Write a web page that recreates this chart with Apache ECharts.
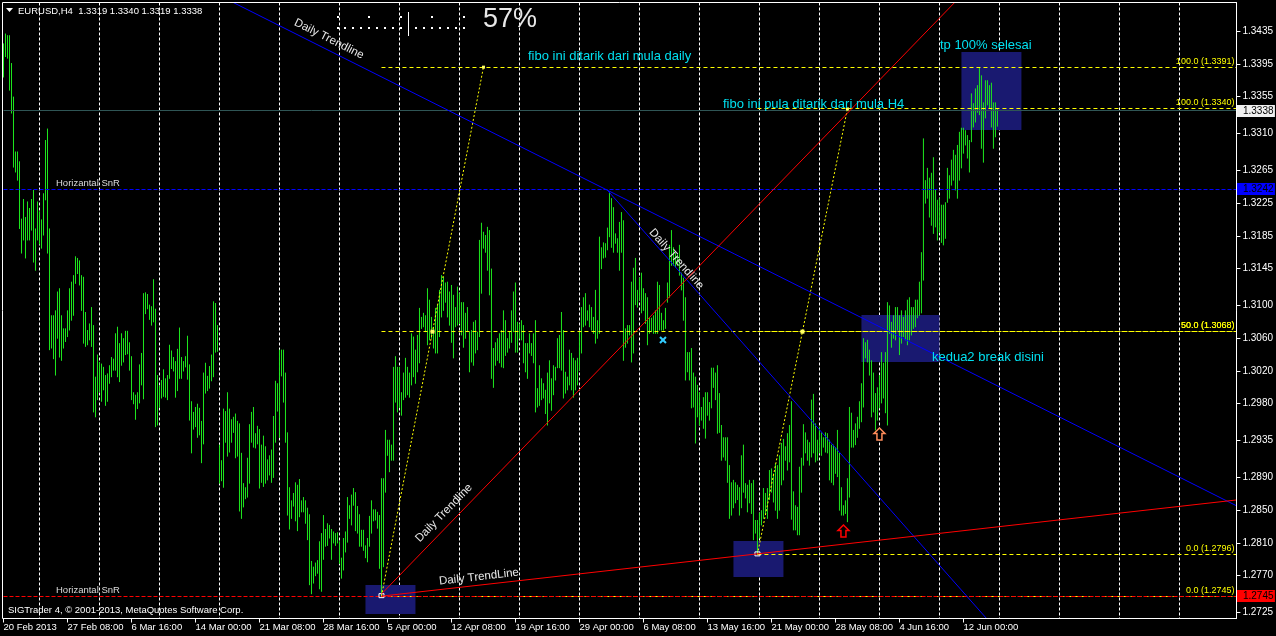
<!DOCTYPE html>
<html>
<head>
<meta charset="utf-8">
<title>EURUSD,H4</title>
<script src="https://cdn.jsdelivr.net/npm/echarts@6.0.0/dist/echarts.min.js"></script>
<style>
html,body{margin:0;padding:0;background:#000;overflow:hidden;}
#chart{width:1276px;height:636px;}
</style>
</head>
<body>
<div id="chart"></div>
<script>
// ---------------- DATA ----------------
// H4 bars: high / low per bar (bar 0 = 20 Feb 2013 00:00)
const barHigh = [
1.3420,1.3432,1.3430,1.3430,1.3396,1.3355,1.3288,1.3288,1.3276,1.3206,
1.3230,1.3208,1.3227,1.3219,1.3230,1.3241,1.3194,1.3227,1.3215,1.3205,
1.3237,1.3302,1.3316,1.3194,1.3088,1.3088,1.3094,1.3117,1.3121,1.3088,
1.3072,1.3072,1.3094,1.3121,1.3129,1.3137,1.3160,1.3158,1.3155,1.3137,
1.3135,1.3092,1.3070,1.3078,1.3098,1.3076,1.3013,1.3040,1.3031,1.3029,
1.3025,1.3015,1.3017,1.3027,1.3037,1.3035,1.3066,1.3074,1.3054,1.3066,
1.3060,1.3069,1.3069,1.3055,1.3038,1.2994,1.2991,1.2994,1.3028,1.3042,
1.3115,1.3116,1.3114,1.3101,1.3099,1.3132,1.3096,1.3015,1.3002,1.3009,
1.3022,1.3011,1.3015,1.3052,1.3045,1.3037,1.3032,1.3047,1.3073,1.3037,
1.3032,1.3038,1.3063,1.3028,1.2983,1.2970,1.2976,1.2980,1.2975,1.2959,
1.3018,1.3030,1.3014,1.3026,1.3040,1.3105,1.3103,1.3076,1.2930,1.2911,
1.2974,1.2971,1.2994,1.2974,1.2961,1.2964,1.2968,1.2959,1.2956,1.2920,
1.2883,1.2878,1.2914,1.2955,1.2970,1.2976,1.2944,1.2953,1.2949,1.2930,
1.2941,1.2928,1.2912,1.2917,1.2924,1.2965,1.3008,1.3005,1.3046,1.3046,
1.3046,1.3018,1.2945,1.2878,1.2862,1.2871,1.2884,1.2881,1.2888,1.2862,
1.2866,1.2862,1.2853,1.2845,1.2788,1.2781,1.2786,1.2789,1.2812,1.2822,
1.2844,1.2827,1.2834,1.2832,1.2827,1.2824,1.2822,1.2823,1.2812,1.2792,
1.2816,1.2824,1.2866,1.2856,1.2869,1.2877,1.2872,1.2855,1.2845,1.2826,
1.2826,1.2807,1.2816,1.2843,1.2862,1.2851,1.2851,1.2848,1.2844,1.2889,
1.2889,1.2948,1.2936,1.2936,1.2930,1.3025,1.3038,1.3025,1.3025,1.2994,
1.3018,1.3036,1.3025,1.3018,1.3066,1.3062,1.3046,1.3064,1.3097,1.3086,
1.3091,1.3088,1.3121,1.3107,1.3086,1.3074,1.3097,1.3101,1.3119,1.3137,
1.3135,1.3128,1.3129,1.3117,1.3125,1.3113,1.3098,1.3123,1.3115,1.3104,
1.3104,1.3091,1.3098,1.3068,1.3070,1.3080,1.3082,1.3068,1.3180,1.3201,
1.3190,1.3186,1.3196,1.3192,1.3145,1.3048,1.3055,1.3060,1.3066,1.3070,
1.3094,1.3082,1.3060,1.3068,1.3094,1.3117,1.3128,1.3080,1.3078,1.3082,
1.3076,1.3054,1.3054,1.3066,1.3054,1.3066,1.3082,1.2999,1.3027,1.3011,
1.3005,1.2997,1.3018,1.3033,1.3011,1.3027,1.3025,1.3060,1.3064,1.3092,
1.3070,1.3019,1.3013,1.3046,1.3042,1.3036,1.3033,1.3036,1.3068,1.3098,
1.3110,1.3115,1.3094,1.3101,1.3098,1.3086,1.3119,1.3082,1.3184,1.3171,
1.3177,1.3176,1.3195,1.3239,1.3231,1.3220,1.3188,1.3182,1.3202,1.3214,
1.3204,1.3072,1.3076,1.3076,1.3129,1.3146,1.3158,1.3119,1.3134,1.3140,
1.3121,1.3115,1.3110,1.3085,1.3085,1.3088,1.3094,1.3129,1.3125,1.3091,
1.3082,1.3097,1.3128,1.3174,1.3192,1.3171,1.3164,1.3162,1.3174,1.3140,
1.3134,1.3110,1.3043,1.3043,1.3048,1.3018,1.3013,1.3003,1.2994,1.2976,
1.2988,1.2994,1.2994,1.2982,1.3024,1.3024,1.3018,1.3027,1.2993,1.2954,
1.2939,1.2939,1.2939,1.2905,1.2884,1.2887,1.2884,1.2881,1.2878,1.2917,
1.2930,1.2883,1.2881,1.2887,1.2883,1.2887,1.2838,1.2838,1.2847,1.2850,
1.2877,1.2871,1.2877,1.2899,1.2901,1.2895,1.2907,1.2905,1.2917,1.2932,
1.2937,1.2928,1.2944,1.2954,1.2983,1.2873,1.2856,1.2854,1.2903,1.2914,
1.2955,1.2945,1.2936,1.2933,1.2985,1.2992,1.2956,1.2936,1.2952,1.2945,
1.2939,1.2945,1.2944,1.2936,1.2930,1.2930,1.2927,1.2948,1.2920,1.2878,
1.2856,1.2862,1.2889,1.2976,1.2969,1.2948,1.2956,1.2964,1.2983,1.3005,
1.3060,1.3055,1.3058,1.3046,1.3033,1.3018,1.2993,1.3000,1.3015,1.3043,
1.3030,1.3043,1.3104,1.3100,1.3080,1.3088,1.3098,1.3098,1.3088,1.3094,
1.3086,1.3094,1.3107,1.3110,1.3098,1.3098,1.3107,1.3107,1.3129,1.3165,
1.3304,1.3253,1.3268,1.3256,1.3262,1.3281,1.3241,1.3229,1.3231,1.3223,
1.3223,1.3226,1.3268,1.3259,1.3278,1.3290,1.3284,1.3296,1.3312,1.3317,
1.3317,1.3314,1.3308,1.3302,1.3359,1.3347,1.3365,1.3369,1.3390,1.3381,
1.3348,1.3375,1.3375,1.3369,1.3372,1.3348,1.3348,1.3340
];
const barLow = [
1.3379,1.3404,1.3402,1.3363,1.3335,1.3269,1.3263,1.3253,1.3194,1.3164,
1.3180,1.3158,1.3180,1.3180,1.3192,1.3153,1.3143,1.3180,1.3175,1.3170,
1.3186,1.3229,1.3164,1.3046,1.3048,1.3035,1.3015,1.3060,1.3037,1.3033,
1.3048,1.3056,1.3062,1.3070,1.3082,1.3088,1.3127,1.3139,1.3125,1.3094,
1.3054,1.3050,1.3052,1.3058,1.3050,1.2970,1.2964,1.2985,1.2995,1.2983,
1.2997,1.2978,1.2983,1.3005,1.3013,1.3021,1.3021,1.3013,1.3007,1.3027,
1.3031,1.3040,1.3041,1.3021,1.2985,1.2980,1.2961,1.2974,1.2981,1.3003,
1.2986,1.3090,1.3096,1.3083,1.3076,1.3080,1.2952,1.2954,1.2976,1.2987,
1.2989,1.2988,1.2985,1.3011,1.3023,1.3020,1.2988,1.2996,1.3011,1.3011,
1.3020,1.3025,1.3010,1.2960,1.2920,1.2949,1.2952,1.2939,1.2942,1.2908,
1.2931,1.2993,1.2996,1.2999,1.3008,1.3013,1.3043,1.3044,1.2883,1.2886,
1.2878,1.2933,1.2916,1.2921,1.2933,1.2945,1.2914,1.2916,1.2849,1.2840,
1.2854,1.2864,1.2866,1.2883,1.2933,1.2927,1.2926,1.2931,1.2877,1.2884,
1.2879,1.2883,1.2887,1.2893,1.2884,1.2890,1.2933,1.2971,1.2939,1.3014,
1.2982,1.2933,1.2844,1.2827,1.2840,1.2855,1.2837,1.2825,1.2842,1.2848,
1.2848,1.2834,1.2814,1.2759,1.2748,1.2761,1.2770,1.2773,1.2754,1.2751,
1.2790,1.2806,1.2807,1.2816,1.2790,1.2810,1.2807,1.2810,1.2785,1.2767,
1.2777,1.2799,1.2811,1.2840,1.2832,1.2856,1.2825,1.2822,1.2806,1.2806,
1.2801,1.2792,1.2787,1.2806,1.2822,1.2837,1.2838,1.2828,1.2779,1.2745,
1.2781,1.2872,1.2917,1.2897,1.2911,1.2911,1.2982,1.2970,1.2976,1.2966,
1.2985,1.2988,1.2991,1.2988,1.3003,1.3013,1.3005,1.3019,1.3030,1.3072,
1.3074,1.3068,1.3052,1.3058,1.3060,1.3048,1.3042,1.3042,1.3062,1.3086,
1.3094,1.3104,1.3086,1.3076,1.3055,1.3036,1.3074,1.3076,1.3078,1.3064,
1.3049,1.3060,1.3068,1.3019,1.3031,1.3027,1.3042,1.3046,1.3062,1.3115,
1.3170,1.3165,1.3143,1.3113,1.3011,1.3000,1.3027,1.3033,1.3030,1.3025,
1.3024,1.3039,1.3043,1.3048,1.3055,1.3068,1.3043,1.3043,1.3060,1.3058,
1.3030,1.3019,1.3011,1.3042,1.3039,1.3030,1.2970,1.2976,1.2978,1.2985,
1.2987,1.2968,1.2954,1.2981,1.2972,1.2991,1.3009,1.3024,1.3024,1.3021,
1.2987,1.2993,1.2997,1.3003,1.2997,1.2988,1.2997,1.3003,1.3021,1.3042,
1.3074,1.3076,1.3082,1.3074,1.3070,1.3066,1.3054,1.3060,1.3066,1.3145,
1.3158,1.3159,1.3168,1.3184,1.3171,1.3165,1.3176,1.3165,1.3143,1.3165,
1.3033,1.3049,1.3054,1.3064,1.3031,1.3042,1.3101,1.3098,1.3107,1.3091,
1.3094,1.3078,1.3052,1.3066,1.3068,1.3066,1.3066,1.3066,1.3070,1.3070,
1.3070,1.3072,1.3104,1.3110,1.3149,1.3149,1.3147,1.3149,1.3137,1.3119,
1.3082,1.3009,1.3019,1.3009,1.2975,1.2976,1.2932,1.2964,1.2954,1.2960,
1.2950,1.2938,1.2966,1.2960,1.2975,1.3000,1.2985,1.2944,1.2945,1.2911,
1.2915,1.2911,1.2884,1.2840,1.2844,1.2853,1.2859,1.2863,1.2844,1.2853,
1.2872,1.2865,1.2848,1.2859,1.2846,1.2814,1.2822,1.2796,1.2816,1.2832,
1.2840,1.2846,1.2840,1.2863,1.2872,1.2860,1.2850,1.2840,1.2850,1.2881,
1.2887,1.2911,1.2899,1.2909,1.2839,1.2826,1.2826,1.2820,1.2820,1.2872,
1.2905,1.2920,1.2911,1.2905,1.2915,1.2920,1.2909,1.2911,1.2920,1.2917,
1.2927,1.2921,1.2920,1.2887,1.2884,1.2881,1.2895,1.2891,1.2850,1.2844,
1.2844,1.2846,1.2836,1.2866,1.2927,1.2927,1.2930,1.2939,1.2950,1.2958,
1.2976,1.3036,1.3031,1.3015,1.2964,1.2970,1.2948,1.2960,1.2975,1.2981,
1.2987,1.2969,1.2954,1.3066,1.3049,1.3060,1.3058,1.3070,1.3040,1.3054,
1.3062,1.3058,1.3052,1.3058,1.3064,1.3072,1.3074,1.3085,1.3088,1.3091,
1.3131,1.3225,1.3231,1.3208,1.3198,1.3188,1.3196,1.3180,1.3190,1.3177,
1.3174,1.3182,1.3226,1.3231,1.3247,1.3253,1.3241,1.3231,1.3253,1.3268,
1.3286,1.3296,1.3280,1.3263,1.3300,1.3318,1.3324,1.3336,1.3333,1.3292,
1.3275,1.3329,1.3345,1.3341,1.3318,1.3292,1.3306,1.3319
];
const lastOpen = 1.3319;
const bidPrice = 1.3338;

// time axis labels (one every 32 H4 bars)
const xTickLabels = ['20 Feb 2013','27 Feb 08:00','6 Mar 16:00','14 Mar 00:00','21 Mar 08:00','28 Mar 16:00','5 Apr 00:00','12 Apr 08:00','19 Apr 16:00','29 Apr 00:00','6 May 08:00','13 May 16:00','21 May 00:00','28 May 08:00','4 Jun 16:00','12 Jun 00:00'];
const barsPerLabel = 32;
// price axis labels
const yTickValues = [1.3435,1.3395,1.3355,1.3310,1.3265,1.3225,1.3185,1.3145,1.3100,1.3060,1.3020,1.2980,1.2935,1.2890,1.2850,1.2810,1.2770,1.2725];

// horizontal support/resistance lines
const snrPrices = [1.3242, 1.2745];
const snrColors = ['#0000ff', '#ff0000'];
const snrLabelBar = 26.25;

// fibonacci retracements (anchor bars, low / high)
const fiboStartBar = [189, 377];
const fiboEndBar = [240, 422];
const fiboLow = [1.2745, 1.2796];
const fiboHigh = [1.3391, 1.3340];

// trendlines: two anchors each (bar, price)
const trendA = [[302, 1.32407], [302, 1.32407], [189, 1.27476], [189, 1.2745]];
const trendB = [[616, 1.28560], [490, 1.27220], [474, 1.34659], [616, 1.28623]];
const trendColors = ['#0000ff', '#0000ff', '#ff0000', '#ff0000'];
const trendBothWays = [true, false, false, false];
const trendLabels = ['Daily Trendline', 'Daily Trendline', 'Daily Trendline', 'Daily TrendLine'];
const trendLabelAt = [[162.75, 1.34254], [336.5, 1.31567], [220.25, 1.28465], [237.75, 1.27684]];

// filled zones: bar1, price1, bar2, price2
const zoneBoxes = [
  [181, 1.27586, 206, 1.27232],
  [365, 1.28123, 390, 1.27684],
  [429, 1.30883, 468, 1.30310],
  [479, 1.34095, 509, 1.33142]
];

// text notes
const noteTexts = ['fibo ini ditarik dari mula daily', 'fibo ini pula ditarik dari mula H4', 'tp 100% selesai', 'kedua2 break disini'];
const noteAt = [[262.25, 1.34046], [359.75, 1.33460], [468.25, 1.34180], [464.25, 1.30370]];

// arrow marks
const arrowAt = [[420, 1.28245], [438, 1.29430]];
const arrowColors = ['#ff0000', '#ff8c5a'];
const crossAt = [329.75, 1.30578];

const progressPercent = 57;

// ---------------- LAYOUT ----------------
const FONT = '"Liberation Sans", Arial, sans-serif';
const BAR_COLOR = '#1ee81e';
const X_MAX = 616.5;
const Y_MAX = 1.346995;
const Y_MIN = 1.271770;
const xTickBars = xTickLabels.map((_, k) => k * barsPerLabel);
const weekStarts = [];
for (let b = 18; b <= X_MAX; b += 30) weekStarts.push(b);

function crisp(v) { return Math.round(v - 0.5) + 0.5; }

function clipSeg(x1, y1, x2, y2, r) {
  let t0 = 0, t1 = 1;
  const dx = x2 - x1, dy = y2 - y1;
  const p = [-dx, dx, -dy, dy];
  const q = [x1 - r.x, r.x + r.width - x1, y1 - r.y, r.y + r.height - y1];
  for (let k = 0; k < 4; k++) {
    if (p[k] === 0) { if (q[k] < 0) return null; }
    else {
      const t = q[k] / p[k];
      if (p[k] < 0) { if (t > t1) return null; if (t > t0) t0 = t; }
      else { if (t < t0) return null; if (t < t1) t1 = t; }
    }
  }
  return [x1 + t0 * dx, y1 + t0 * dy, x1 + t1 * dx, y1 + t1 * dy];
}

function txt(x, y, text, color, size, align, vAlign, rotation) {
  return {
    type: 'text', x: x, y: y, rotation: rotation || 0,
    style: {
      text: text, fill: color, font: size + 'px ' + FONT,
      textAlign: align, textVerticalAlign: vAlign, align: align, verticalAlign: vAlign
    }
  };
}

// level segments built from fibo / snr definitions
const levelSegs = [];
fiboStartBar.forEach((b, k) => {
  const mid = (fiboLow[k] + fiboHigh[k]) / 2;
  [[fiboHigh[k], '100.0'], [mid, '50.0'], [fiboLow[k], '0.0']].forEach(([p, l]) => {
    levelSegs.push({ bar: b, price: p, color: '#ffff00', dash: [4, 3], label: l + ' (' + p.toFixed(4) + ')' });
  });
});
snrPrices.forEach((p, k) => levelSegs.push({ bar: null, price: p, color: snrColors[k], dash: [4, 2], label: null }));
levelSegs.push({ bar: null, price: bidPrice, color: '#2f5555', dash: null, label: null });

const chart = echarts.init(document.getElementById('chart'), null, { renderer: 'canvas', width: 1276, height: 636 });

const titleText = 'EURUSD,H4  ' + [lastOpen, barHigh[barHigh.length - 1], barLow[barLow.length - 1], bidPrice].map(v => v.toFixed(4)).join(' ');

const graphics = [
  { type: 'rect', shape: { x: 2.5, y: 2.5, width: 1234, height: 616 }, style: { fill: null, stroke: '#ffffff', lineWidth: 1 }, z: 50, silent: true },
  { type: 'polygon', shape: { points: [[6, 8], [13, 8], [9.5, 12]] }, style: { fill: '#ffffff' }, z: 50 },
  { type: 'text', x: 18, y: 11, style: { text: titleText, fill: '#ffffff', font: '9.5px ' + FONT, textVerticalAlign: 'middle', verticalAlign: 'middle' }, z: 50 },
  { type: 'text', x: 483, y: 20, style: { text: progressPercent + '%', fill: '#e8e8e8', font: '27px ' + FONT, textVerticalAlign: 'middle', verticalAlign: 'middle' }, z: 50 },
  { type: 'text', x: 8, y: 610, style: { text: 'SIGTrader 4, \u00a9 2001-2013, MetaQuotes Software Corp.', fill: '#ffffff', font: '9.5px ' + FONT, textVerticalAlign: 'middle', verticalAlign: 'middle' }, z: 50 }
];
const progPos = Math.round(progressPercent / 100 * 16);
for (let k = 0; k <= 16; k++) {
  const x = 337.5 + k * 7.875;
  if (k === progPos) {
    graphics.push({ type: 'line', shape: { x1: Math.round(x) + 0.5, y1: 12, x2: Math.round(x) + 0.5, y2: 36 }, style: { stroke: '#ffffff', lineWidth: 1 }, z: 50 });
  } else {
    graphics.push({ type: 'rect', shape: { x: Math.round(x) - 1, y: 27, width: 2, height: 2 }, style: { fill: '#ffffff' }, z: 50 });
    if (k % 4 === 0) graphics.push({ type: 'rect', shape: { x: Math.round(x) - 1, y: 16, width: 2, height: 2 }, style: { fill: '#ffffff' }, z: 50 });
  }
}

const option = {
  backgroundColor: '#000000',
  animation: false,
  grid: { left: 3.5, top: 2.5, width: 1233, height: 616, containLabel: false },
  xAxis: {
    type: 'value', min: 0, max: X_MAX, position: 'bottom',
    axisLine: { show: true, onZero: false, lineStyle: { color: '#ffffff', width: 1 } },
    axisTick: { show: true, customValues: xTickBars, length: 4, lineStyle: { color: '#ffffff' } },
    axisLabel: {
      show: true, customValues: xTickBars, color: '#ffffff', fontSize: 9.5, fontFamily: FONT,
      align: 'left', margin: 4, formatter: v => xTickLabels[Math.round(v / barsPerLabel)] || ''
    },
    splitLine: { show: false }
  },
  yAxis: {
    type: 'value', min: Y_MIN, max: Y_MAX, position: 'right',
    axisLine: { show: true, onZero: false, lineStyle: { color: '#ffffff', width: 1 } },
    axisTick: { show: true, customValues: yTickValues, length: 4, lineStyle: { color: '#ffffff' } },
    axisLabel: { show: true, customValues: yTickValues, color: '#ffffff', fontSize: 10, fontFamily: FONT, margin: 6, formatter: v => v.toFixed(4) },
    splitLine: { show: false }
  },
  graphic: graphics,
  series: [
    { // weekly period separators
      type: 'custom', name: 'weekGrid', z: 1, silent: true,
      data: weekStarts.map(b => [b]),
      renderItem(params, api) {
        const cs = params.coordSys;
        const x = crisp(api.coord([api.value(0), Y_MAX])[0]);
        return { type: 'line', shape: { x1: x, y1: cs.y, x2: x, y2: cs.y + cs.height }, style: { stroke: '#ffffff', lineWidth: 1, lineDash: [3, 2] } };
      }
    },
    { // zones
      type: 'custom', name: 'zones', z: 2, silent: true,
      data: zoneBoxes,
      renderItem(params, api) {
        const a = api.coord([api.value(0), api.value(1)]);
        const b = api.coord([api.value(2), api.value(3)]);
        return { type: 'rect', shape: { x: Math.min(a[0], b[0]), y: Math.min(a[1], b[1]), width: Math.abs(b[0] - a[0]), height: Math.abs(b[1] - a[1]) }, style: { fill: '#191970' } };
      }
    },
    { // price bars
      type: 'custom', name: 'EURUSD,H4', z: 3, silent: true,
      data: barHigh.map((h, i) => [i, h, barLow[i]]),
      encode: { x: 0, y: [1, 2] },
      renderItem(params, api) {
        const i = api.value(0);
        const hi = api.coord([i, api.value(1)]);
        const lo = api.coord([i, api.value(2)]);
        return { type: 'line', shape: { x1: hi[0], y1: hi[1], x2: hi[0], y2: lo[1] + 0.5 }, style: { stroke: BAR_COLOR, lineWidth: 1 } };
      }
    },
    { // horizontal levels (fibo + snr + bid)
      type: 'custom', name: 'levels', z: 4, silent: true,
      data: levelSegs.map((_, k) => [k]),
      renderItem(params, api) {
        const s = levelSegs[api.value(0)];
        const cs = params.coordSys;
        const y = crisp(api.coord([0, s.price])[1]);
        const x1 = s.bar === null ? cs.x : api.coord([s.bar, s.price])[0];
        const x2 = cs.x + cs.width;
        const style = { stroke: s.color, lineWidth: 1 };
        if (s.dash) style.lineDash = s.dash;
        const children = [{ type: 'line', shape: { x1: x1, y1: y, x2: x2, y2: y }, style: style }];
        if (s.label) children.push(txt(x2 - 2, y - 1, s.label, '#ffff00', 9, 'right', 'bottom'));
        return { type: 'group', children: children };
      }
    },
    { // fibo diagonals + markers
      type: 'custom', name: 'fiboLines', z: 5, silent: true,
      data: fiboStartBar.map((_, k) => [k]),
      renderItem(params, api) {
        const k = api.value(0);
        const a = api.coord([fiboStartBar[k], fiboLow[k]]);
        const b = api.coord([fiboEndBar[k], fiboHigh[k]]);
        const m = api.coord([(fiboStartBar[k] + fiboEndBar[k]) / 2, (fiboLow[k] + fiboHigh[k]) / 2]);
        return {
          type: 'group', children: [
            { type: 'line', shape: { x1: a[0], y1: a[1], x2: b[0], y2: b[1] }, style: { stroke: '#ffff00', lineWidth: 1, lineDash: [2, 2] } },
            { type: 'rect', shape: { x: m[0] - 2, y: m[1] - 2, width: 4, height: 4 }, style: { fill: '#ffff66' } },
            { type: 'rect', shape: { x: b[0] - 1.5, y: b[1] - 1.5, width: 3, height: 3 }, style: { fill: '#ffff66' } },
            { type: 'rect', shape: { x: a[0] - 2.5, y: a[1] - 2.5, width: 5, height: 4 }, style: { fill: 'none', stroke: '#ffffff', lineWidth: 1 } }
          ]
        };
      }
    },
    { // trendlines
      type: 'custom', name: 'trendlines', z: 5, silent: true,
      data: trendA.map((_, k) => [k]),
      renderItem(params, api) {
        const k = api.value(0);
        const a = api.coord(trendA[k]);
        const b = api.coord(trendB[k]);
        const dx = b[0] - a[0], dy = b[1] - a[1];
        const s = trendBothWays[k] ? [a[0] - dx * 20, a[1] - dy * 20] : a;
        const e = [b[0] + dx * 20, b[1] + dy * 20];
        const c = clipSeg(s[0], s[1], e[0], e[1], params.coordSys);
        const children = [];
        if (c) children.push({ type: 'line', shape: { x1: c[0], y1: c[1], x2: c[2], y2: c[3] }, style: { stroke: trendColors[k], lineWidth: 1 } });
        const lp = api.coord(trendLabelAt[k]);
        children.push(txt(lp[0], lp[1], trendLabels[k], '#e8e8e8', 11.5, 'center', 'middle', -Math.atan2(dy, dx)));
        return { type: 'group', children: children };
      }
    },
    { // notes
      type: 'custom', name: 'notes', z: 6, silent: true,
      data: noteTexts.map((_, k) => [k]),
      renderItem(params, api) {
        const k = api.value(0);
        const p = api.coord(noteAt[k]);
        return txt(p[0], p[1], noteTexts[k], '#00e0f0', 13, 'left', 'middle');
      }
    },
    { // snr labels
      type: 'custom', name: 'snrLabels', z: 6, silent: true,
      data: snrPrices.map((_, k) => [k]),
      renderItem(params, api) {
        const k = api.value(0);
        const p = api.coord([snrLabelBar, snrPrices[k]]);
        return txt(p[0], p[1] - 6, 'Horizantal SnR', '#dcdcdc', 9.5, 'left', 'middle');
      }
    },
    { // arrows + cross
      type: 'custom', name: 'marks', z: 6, silent: true,
      data: arrowAt.map((_, k) => [k]),
      renderItem(params, api) {
        const k = api.value(0);
        const c = api.coord(arrowAt[k]);
        const cx = c[0], cy = c[1];
        const children = [{
          type: 'polygon',
          shape: { points: [[cx, cy - 6], [cx + 5.5, cy - 0.5], [cx + 2.5, cy - 0.5], [cx + 2.5, cy + 6], [cx - 2.5, cy + 6], [cx - 2.5, cy - 0.5], [cx - 5.5, cy - 0.5]] },
          style: { fill: '#000000', stroke: arrowColors[k], lineWidth: 1.5 }
        }];
        if (k === 0) {
          const q = api.coord(crossAt);
          children.push({ type: 'line', shape: { x1: q[0] - 3, y1: q[1] - 3, x2: q[0] + 3, y2: q[1] + 3 }, style: { stroke: '#33ccff', lineWidth: 2 } });
          children.push({ type: 'line', shape: { x1: q[0] - 3, y1: q[1] + 3, x2: q[0] + 3, y2: q[1] - 3 }, style: { stroke: '#33ccff', lineWidth: 2 } });
        }
        return { type: 'group', children: children };
      }
    },
    { // price boxes on the axis
      type: 'custom', name: 'axisBoxes', z: 8, silent: true, clip: false,
      data: [[bidPrice, 0], [snrPrices[0], 1], [snrPrices[1], 2]],
      renderItem(params, api) {
        const cs = params.coordSys;
        const price = api.value(0);
        const k = api.value(1);
        const bg = k === 0 ? '#f0f0f0' : snrColors[k - 1];
        const y = Math.round(api.coord([0, price])[1]);
        const x = cs.x + cs.width + 0.5;
        return {
          type: 'group', children: [
            { type: 'rect', shape: { x: x, y: y - 6, width: 38, height: 12 }, style: { fill: bg } },
            txt(x + 6, y, price.toFixed(4), '#000000', 10, 'left', 'middle')
          ]
        };
      }
    }
  ]
};
chart.setOption(option);
</script>
</body>
</html>
